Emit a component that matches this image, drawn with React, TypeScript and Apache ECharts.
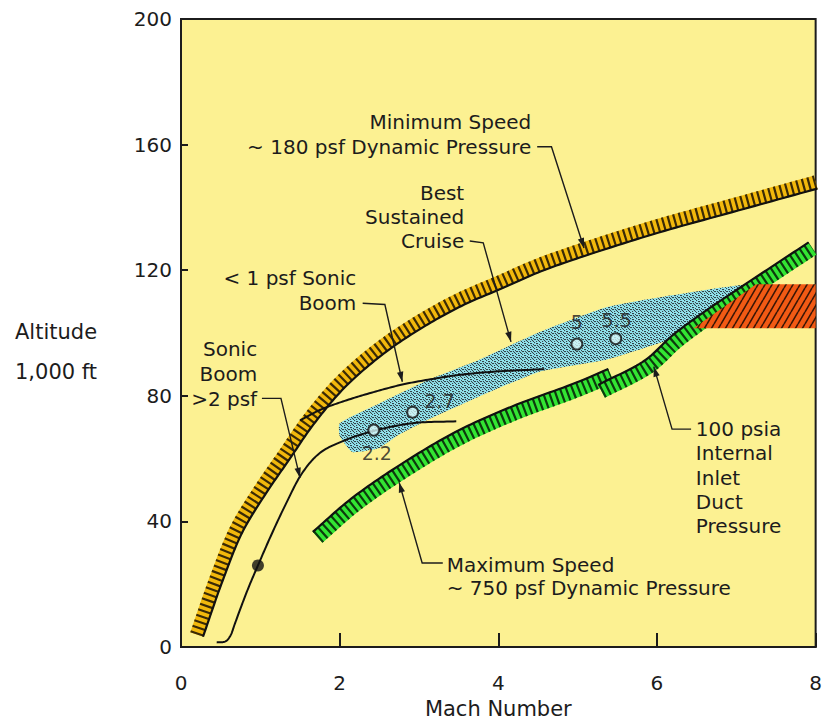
import React, { useEffect, useRef } from 'react';
import * as echarts from 'echarts';

// ---------- data (Mach number, altitude in 1,000 ft) ----------
const machRange = [0, 8];
const altitudeRange = [0, 200];
const machStep = 2;
const altitudeStep = 40;

// Minimum speed (~180 psf dynamic pressure) boundary, centre line
const minSpeedBoundary = [
  [0.2, 4], [0.45, 22], [0.7, 37.5], [1.0, 50], [1.3, 61], [1.6, 72], [2.0, 84], [2.5, 95],
  [3.0, 103.5], [3.5, 110.5], [4.0, 116], [4.5, 121.5], [5.0, 126], [6.0, 134], [7.0, 141], [8.0, 148],
];
// Maximum speed (~750 psf dynamic pressure) boundary, two pieces
const maxSpeedBoundaryLow = [
  [1.72, 35], [2.2, 45.5], [2.8, 56], [3.5, 66.5], [4.2, 74.5], [5.0, 82], [5.42, 86.5],
];
const maxSpeedBoundaryHigh = [
  [5.3, 81.5], [5.9, 89.5], [6.25, 97.5], [6.65, 105], [7.3, 116], [7.96, 127],
];
// 100 psia internal inlet duct pressure region
const inletPressureRegion = [[6.46, 101.5], [7.25, 115.5], [8, 115.5], [8, 101.5]];
// Best sustained cruise corridor
const cruiseUpper = [
  [2.0, 71.3], [2.5, 77.6], [3.13, 85.2], [3.76, 91.5], [4.52, 100.3], [5.36, 108.2], [6.19, 112], [7.2, 115.3],
];
const cruiseLower = [
  [6.45, 100.5], [6.19, 98.1], [5.36, 91.5], [4.52, 87.7], [3.76, 79.8], [3.13, 72.6],
  [2.72, 67.2], [2.5, 63.4], [2.16, 62.1], [2.0, 67.2],
];
// Sonic boom curves
const boomOver2psf = [
  [0.45, 1.5], [0.56, 1.8], [0.62, 3.5], [0.68, 7.5], [0.76, 13], [0.86, 19.5], [0.97, 26],
  [1.12, 34.7], [1.33, 46], [1.53, 55.5], [1.75, 61.8], [2.04, 65.6], [2.42, 68.8], [2.92, 71.3], [3.47, 71.9],
];
const boomUnder1psf = [
  [1.5, 72.2], [1.75, 75.5], [2.04, 78.2], [2.4, 81], [2.79, 83.6], [3.2, 85.5], [3.55, 86.8], [4.0, 87.8], [4.58, 88.5],
];
// Marked points
const cruisePoints = [[2.43, 69.1], [2.92, 74.8], [4.99, 96.5], [5.48, 98.2]];
const cruisePointLabels = ['2.2', '2.7', '5', '5.5'];
const transonicPoint = [[0.97, 26]];

// ---------- texts ----------
const xTitle = 'Mach Number';
const yTitle = ['Altitude', '1,000 ft'];
const minSpeedText = ['Minimum Speed', '~ 180 psf Dynamic Pressure'];
const cruiseText = ['Best', 'Sustained', 'Cruise'];
const under1Text = ['< 1 psf Sonic', 'Boom'];
const over2Text = ['Sonic', 'Boom', '>2 psf'];
const maxSpeedText = ['Maximum Speed', '~ 750 psf Dynamic Pressure'];
const inletText = ['100 psia', 'Internal', 'Inlet', 'Duct', 'Pressure'];

// ---------- styles ----------
const FONT = 'DejaVu Sans';
const INK = '#1c1c1c';
const PLOT_BG = '#fcf192';
const pointLabelOffsets = [[3, 23], [27, -11], [0, -22], [1, -19]];

const annotations = [
  { lines: minSpeedText, at: [4.415, 167.2], align: 'right', gap: 25, leader: [[4.49, 159.3], [4.67, 159.3], [5.08, 127.1]] },
  { lines: cruiseText, at: [3.57, 144.5], align: 'right', gap: 24, leader: [[3.64, 129.3], [3.81, 128.7], [4.16, 97.2]] },
  { lines: under1Text, at: [2.21, 117.4], align: 'right', gap: 25, leader: [[2.29, 109.5], [2.57, 109.1], [2.79, 84.5]] },
  { lines: over2Text, at: [0.96, 95], align: 'right', gap: 25, leader: [[1.02, 79.2], [1.26, 79.2], [1.5, 53.9]] },
  { lines: maxSpeedText, at: [3.35, 26.2], align: 'left', gap: 23, leader: [[3.3, 26.8], [3.04, 26.8], [2.75, 52.4]] },
  { lines: inletText, at: [6.49, 69.4], align: 'left', gap: 24.3, leader: [[6.43, 69.4], [6.19, 69.4], [5.96, 89.3]] },
];

// centripetal Catmull-Rom through the projected points (rendering only)
function spline(pts: number[][], seg = 14): number[][] {
  if (pts.length < 3) return pts;
  const n = pts.length;
  const P = [
    [2 * pts[0][0] - pts[1][0], 2 * pts[0][1] - pts[1][1]],
    ...pts,
    [2 * pts[n - 1][0] - pts[n - 2][0], 2 * pts[n - 1][1] - pts[n - 2][1]],
  ];
  const out: number[][] = [];
  const td = (a: number[], b: number[]) => Math.max(Math.sqrt(Math.hypot(b[0] - a[0], b[1] - a[1])), 1e-4);
  const lerp = (a: number[], b: number[], ta: number, tb: number, t: number) => {
    const u = (t - ta) / (tb - ta);
    return [a[0] + (b[0] - a[0]) * u, a[1] + (b[1] - a[1]) * u];
  };
  for (let i = 1; i < P.length - 2; i++) {
    const p0 = P[i - 1], p1 = P[i], p2 = P[i + 1], p3 = P[i + 2];
    const t0 = 0, t1 = t0 + td(p0, p1), t2 = t1 + td(p1, p2), t3 = t2 + td(p2, p3);
    for (let j = 0; j < seg; j++) {
      const t = t1 + ((t2 - t1) * j) / seg;
      const A1 = lerp(p0, p1, t0, t1, t);
      const A2 = lerp(p1, p2, t1, t2, t);
      const A3 = lerp(p2, p3, t2, t3, t);
      const B1 = lerp(A1, A2, t0, t2, t);
      const B2 = lerp(A2, A3, t1, t3, t);
      out.push(lerp(B1, B2, t1, t2, t));
    }
  }
  out.push(pts[n - 1]);
  return out;
}

function makeHatch(bg: string, fg: string, w: number, h: number, lw: number) {
  const c = document.createElement('canvas');
  c.width = w; c.height = h;
  const g = c.getContext('2d')!;
  g.fillStyle = bg; g.fillRect(0, 0, w, h);
  g.strokeStyle = fg; g.lineWidth = lw;
  g.beginPath();
  for (const o of [-w, 0, w]) { g.moveTo(o, h); g.lineTo(o + w, 0); }
  g.stroke();
  return { image: c, repeat: 'repeat', imageWidth: w, imageHeight: h };
}

function makeStipple(bg: string, fg: string) {
  const c = document.createElement('canvas');
  c.width = 6; c.height = 6;
  const g = c.getContext('2d')!;
  g.fillStyle = bg; g.fillRect(0, 0, 6, 6);
  g.fillStyle = fg;
  const dots = [[0, 0], [3, 1], [1, 3], [4, 4], [5, 2], [2, 5], [2, 1], [5, 5], [0, 3], [3, 3]];
  dots.forEach(([x, y]) => g.fillRect(x, y, 1.1, 1.1));
  return { image: c, repeat: 'repeat', imageWidth: 6, imageHeight: 6 };
}

function bandSeries(points: number[][], base: string, stripe: string, width: number, side: number) {
  return {
    type: 'custom',
    coordinateSystem: 'cartesian2d',
    data: points,
    silent: true,
    renderItem: (params: any, api: any) => {
      if (params.dataIndex !== 0) return null;
      const pts = spline(points.map((p) => api.coord(p)));
      const edge = pts.map((p, i) => {
        const a = pts[Math.max(0, i - 1)];
        const b = pts[Math.min(pts.length - 1, i + 1)];
        let dx = b[0] - a[0];
        let dy = b[1] - a[1];
        const len = Math.hypot(dx, dy) || 1;
        dx /= len; dy /= len;
        const off = side * (width / 2 - 0.5);
        return [p[0] - dy * off, p[1] + dx * off];
      });
      return {
        type: 'group',
        children: [
          { type: 'polyline', shape: { points: pts }, style: { stroke: base, lineWidth: width, fill: 'none', lineCap: 'butt', lineJoin: 'round' } },
          { type: 'polyline', shape: { points: pts }, style: { stroke: stripe, lineWidth: width, fill: 'none', lineCap: 'butt', lineDash: [2.2, 3.6] } },
          { type: 'polyline', shape: { points: edge }, style: { stroke: '#111', lineWidth: 2.2, fill: 'none', lineJoin: 'round' } },
        ],
      };
    },
  };
}

function curveSeries(points: number[][]) {
  return {
    type: 'custom',
    coordinateSystem: 'cartesian2d',
    data: points,
    silent: true,
    renderItem: (params: any, api: any) => {
      if (params.dataIndex !== 0) return null;
      return {
        type: 'polyline',
        shape: { points: spline(points.map((p) => api.coord(p))) },
        style: { stroke: '#111', lineWidth: 2, fill: 'none', lineJoin: 'round' },
      };
    },
  };
}

function polygonSeries(points: number[][], fill: any, smooth: number) {
  return {
    type: 'custom',
    coordinateSystem: 'cartesian2d',
    data: points,
    silent: true,
    renderItem: (params: any, api: any) => {
      if (params.dataIndex !== 0) return null;
      return { type: 'polygon', shape: { points: points.map((p) => api.coord(p)), smooth }, style: { fill, stroke: 'none' } };
    },
  };
}

function annotationSeries() {
  return {
    type: 'custom',
    coordinateSystem: 'cartesian2d',
    data: [[0, 0]],
    silent: true,
    renderItem: (params: any, api: any) => {
      const children: any[] = [];
      annotations.forEach((a) => {
        const p0 = api.coord(a.at);
        a.lines.forEach((t, i) => {
          children.push({
            type: 'text', x: p0[0], y: p0[1] + i * a.gap,
            style: { text: t, fill: INK, fontSize: 20, fontFamily: FONT, align: a.align, verticalAlign: 'middle' },
          });
        });
        const lp = a.leader.map((p) => api.coord(p));
        children.push({ type: 'polyline', shape: { points: lp }, style: { stroke: INK, lineWidth: 1.4, fill: 'none' } });
        const tip = lp[lp.length - 1];
        const prev = lp[lp.length - 2];
        let dx = tip[0] - prev[0];
        let dy = tip[1] - prev[1];
        const len = Math.hypot(dx, dy) || 1;
        dx /= len; dy /= len;
        const L = 10, W = 3.2;
        const bx = tip[0] - dx * L, by = tip[1] - dy * L;
        children.push({
          type: 'polygon',
          shape: { points: [tip, [bx - dy * W, by + dx * W], [bx + dy * W, by - dx * W]] },
          style: { fill: INK, stroke: 'none' },
        });
      });
      return { type: 'group', children };
    },
  };
}

export default function App() {
  const ref = useRef<HTMLDivElement>(null);
  useEffect(() => {
    if (!ref.current) return;
    const chart = echarts.init(ref.current, null, { renderer: 'svg' });
    const redHatch = makeHatch('#f25a14', '#3a1606', 7, 12, 1.6);
    const blueStipple = makeStipple('#92e5ee', '#34434a');
    const option: any = {
      animation: false,
      backgroundColor: '#ffffff',
      textStyle: { fontFamily: FONT },
      grid: {
        left: 181, right: 8, top: 19, bottom: 71, show: true,
        backgroundColor: PLOT_BG, borderColor: INK, borderWidth: 2,
      },
      xAxis: {
        type: 'value', min: machRange[0], max: machRange[1], interval: machStep,
        name: xTitle, nameLocation: 'middle', nameGap: 47,
        nameTextStyle: { fontSize: 21, color: INK, fontFamily: FONT },
        axisLine: { lineStyle: { color: INK, width: 2 } },
        axisTick: { inside: true, length: 14, lineStyle: { color: INK, width: 2 } },
        axisLabel: { fontSize: 20, color: INK, margin: 26, fontFamily: FONT },
        splitLine: { show: false },
      },
      yAxis: {
        type: 'value', min: altitudeRange[0], max: altitudeRange[1], interval: altitudeStep,
        axisLine: { lineStyle: { color: INK, width: 2 } },
        axisTick: { inside: true, length: 7, lineStyle: { color: INK, width: 2 } },
        axisLabel: { fontSize: 20, color: INK, margin: 9, fontFamily: FONT },
        splitLine: { show: false },
      },
      graphic: yTitle.map((t, i) => ({
        type: 'text', x: 15, y: 332 + i * 40,
        style: { text: t, fontSize: 21, fontFamily: FONT, fill: INK, verticalAlign: 'middle', textVerticalAlign: 'middle' },
      })),
      series: [
        polygonSeries([...cruiseUpper, ...cruiseLower], blueStipple, 0.15),
        bandSeries(minSpeedBoundary, '#f2b80c', '#3a2a06', 14, 1),
        bandSeries(maxSpeedBoundaryLow, '#33e533', '#0d3a0d', 15, -1),
        bandSeries(maxSpeedBoundaryHigh, '#33e533', '#0d3a0d', 15, -1),
        polygonSeries(inletPressureRegion, redHatch, 0),
        curveSeries(boomOver2psf),
        curveSeries(boomUnder1psf),
        annotationSeries(),
        {
          type: 'scatter', symbol: 'circle', symbolSize: 11,
          itemStyle: { color: '#d6f6f8', borderColor: '#111', borderWidth: 2 },
          label: { show: true, position: 'inside', formatter: '{b}', fontSize: 19, color: INK, fontFamily: FONT },
          data: cruisePoints.map((p, i) => ({
            value: p, name: cruisePointLabels[i], label: { offset: pointLabelOffsets[i] },
          })),
          z: 5,
        },
        {
          type: 'scatter', symbol: 'circle', symbolSize: 12, data: transonicPoint,
          itemStyle: { color: '#111' }, z: 5,
        },
      ],
    };
    chart.setOption(option);
    return () => chart.dispose();
  }, []);
  return <div ref={ref} style={{ position: 'absolute', left: 0, top: 0, width: 825, height: 724 }} />;
}
